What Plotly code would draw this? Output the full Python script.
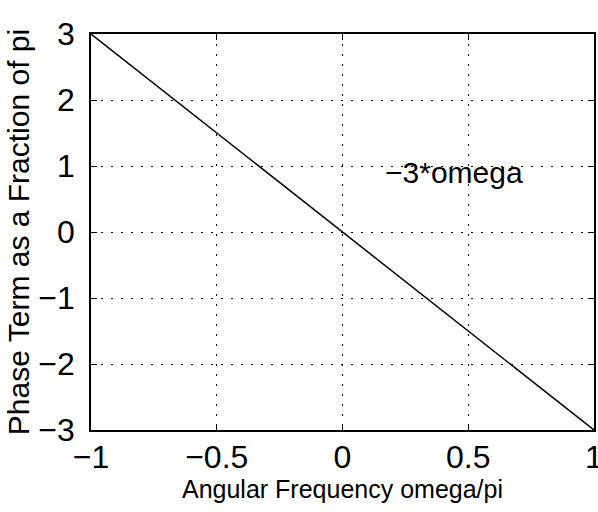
import plotly.graph_objects as go

omega = [-1.0, 1.0]
phase = [3.0, -3.0]
x_ticks = [-1, -0.5, 0, 0.5, 1]
x_labels = ["\u22121", "\u22120.5", "0", "0.5", "1"]
y_ticks = [-3, -2, -1, 0, 1, 2, 3]
y_labels = ["\u22123", "\u22122", "\u22121", "0", "1", "2", "3"]
label_text = "\u22123*omega"
label_pos = (0.16, 0.9)

FONT = "Liberation Sans, Arial, Helvetica, sans-serif"

fig = go.Figure()
fig.add_trace(go.Scatter(x=omega, y=phase, mode="lines",
                         line=dict(color="black", width=1.5),
                         showlegend=False, hoverinfo="skip"))

fig.add_annotation(x=label_pos[0], y=label_pos[1], text=label_text,
                   showarrow=False, xanchor="left", yanchor="middle",
                   font=dict(family=FONT, size=30, color="black"))

axis_common = dict(
    showline=True, linecolor="black", linewidth=1.5, mirror="ticks",
    ticks="inside", ticklen=6, tickcolor="black", tickwidth=1,
    showgrid=True, gridcolor="black", gridwidth=1, griddash="2px,8px",
    zeroline=False, ticklabeloverflow="allow",
    tickfont=dict(family=FONT, size=32, color="black"),
)

fig.update_xaxes(range=[-1, 1], tickvals=x_ticks, ticktext=x_labels,
                 title=dict(text="Angular Frequency omega/pi",
                            font=dict(family=FONT, size=25, color="black"),
                            standoff=1),
                 ticklabelstandoff=-2,
                 **axis_common)
fig.update_yaxes(range=[-3, 3], tickvals=y_ticks, ticktext=y_labels,
                 title=dict(text="Phase Term as a Fraction of pi",
                            font=dict(family=FONT, size=30, color="black"),
                            standoff=0),
                 ticklabelstandoff=8,
                 **axis_common)

fig.update_layout(
    width=598, height=512,
    margin=dict(l=91, r=4, t=34, b=82, autoexpand=False),
    plot_bgcolor="white", paper_bgcolor="white",
)

fig.write_html("out.html")
